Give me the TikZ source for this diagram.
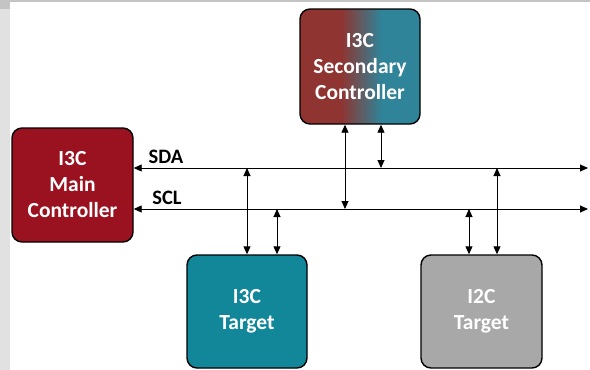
\documentclass[tikz,border=0pt]{standalone}
\usepackage{fontspec}
\setmainfont{Carlito}
\usetikzlibrary{arrows.meta}

\definecolor{mainred}{HTML}{9A1220}
\definecolor{secred}{HTML}{8F3430}
\definecolor{secteal}{HTML}{2F8499}
\definecolor{tgtteal}{HTML}{13879A}
\definecolor{tgtgray}{HTML}{A8A8A8}
\definecolor{edgegray}{HTML}{E1E1E1}
\definecolor{topgray}{HTML}{C4C4C4}

% red-to-teal blend for the secondary controller
\pgfdeclarehorizontalshading{redteal}{100bp}{%
  color(0bp)=(secred); color(42bp)=(secred);
  color(59bp)=(secteal); color(100bp)=(secteal)}

\tikzset{
  block/.style={draw=black, line width=1.4pt, rounded corners=10pt,
    text=white, align=center, font=\bfseries\fontsize{21.5}{26}\selectfont,
    inner sep=0pt},
  buslabel/.style={anchor=base, font=\bfseries\fontsize{20.5}{24}\selectfont,
    inner sep=0pt},
  link/.style={line width=0.9pt, {Triangle[length=8pt,width=7pt]}-{Triangle[length=8pt,width=7pt]}},
}

\begin{document}
\begin{tikzpicture}[x=1pt, y=-1pt]
  % canvas with grey frame strip
  \useasboundingbox (0,0) rectangle (590,370);
  \fill[white] (0,0) rectangle (590,370);
  \fill[edgegray] (0,0) rectangle (10,370);
  \fill[topgray] (0,0) rectangle (590,1.5);
  \fill[topgray] (0,0) rectangle (10,9);

  % blocks
  \node[block, fill=mainred, minimum width=121pt, minimum height=114pt]
    (main) at (72.5,185) {I3C\\Main\\Controller};
  \node[block, shading=redteal, minimum width=120pt, minimum height=115pt]
    (sec) at (360,66.5) {I3C\\Secondary\\Controller};
  \node[block, fill=tgtteal, minimum width=120pt, minimum height=113pt]
    (t3) at (247,311.5) {\rule{0pt}{4pt}I3C\\Target};
  \node[block, fill=tgtgray, minimum width=121pt, minimum height=113pt]
    (t2) at (481.5,311.5) {\rule{0pt}{4pt}I2C\\Target};

  % bus ends and taps
  \coordinate (sdaR) at (588,168);
  \coordinate (sclR) at (588,209);
  \coordinate (t3sda) at (247,168);
  \coordinate (t3scl) at (277,209);
  \coordinate (secscl) at (345,209);
  \coordinate (secsda) at (381,168);
  \coordinate (t2scl) at (469,209);
  \coordinate (t2sda) at (497,168);

  % SDA / SCL lines
  \draw[link] (main.east |- sdaR) -- (sdaR);
  \draw[link] (main.east |- sclR) -- (sclR);
  \node[buslabel] (sdalbl) at (166,163.5) {SDA};
  \node[buslabel] (scllbl) at (167,204.5) {SCL};

  % device taps
  \draw[link] (t3sda) -- (t3sda |- t3.north);
  \draw[link] (t3scl) -- (t3scl |- t3.north);
  \draw[link] (sec.south -| secscl) -- (secscl);
  \draw[link] (sec.south -| secsda) -- (secsda);
  \draw[link] (t2scl) -- (t2scl |- t2.north);
  \draw[link] (t2sda) -- (t2sda |- t2.north);
\end{tikzpicture}
\end{document}
